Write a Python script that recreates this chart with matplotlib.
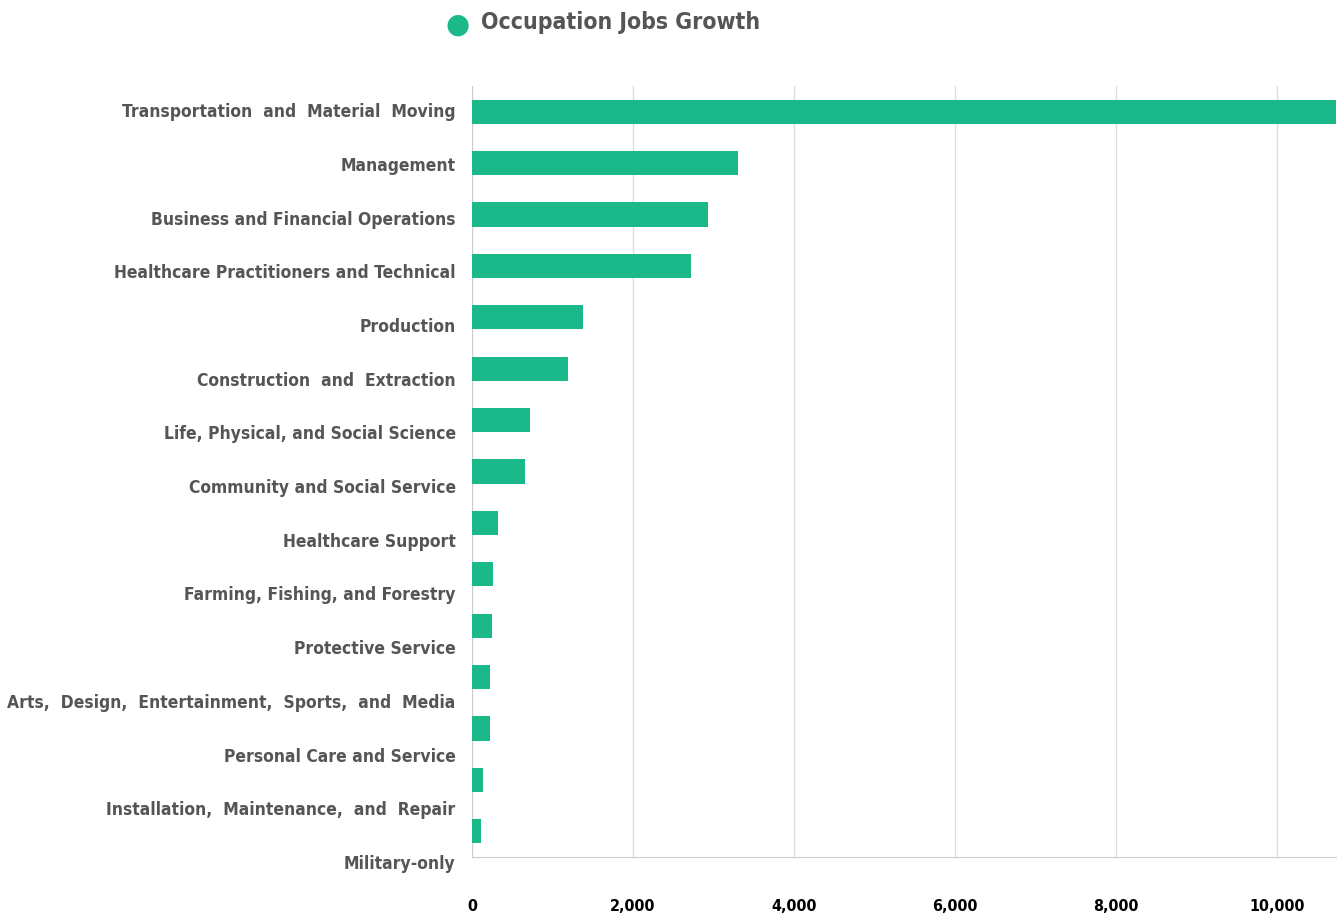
import matplotlib.pyplot as plt
import numpy as np

categories = [
    "Transportation  and  Material  Moving",
    "Management",
    "Business and Financial Operations",
    "Healthcare Practitioners and Technical",
    "Production",
    "Construction  and  Extraction",
    "Life, Physical, and Social Science",
    "Community and Social Service",
    "Healthcare Support",
    "Farming, Fishing, and Forestry",
    "Protective Service",
    "Arts,  Design,  Entertainment,  Sports,  and  Media",
    "Personal Care and Service",
    "Installation,  Maintenance,  and  Repair",
    "Military-only",
]
growth = [10730, 3304, 2932, 2720, 1379, 1193, 720, 658, 323, 261, 248, 224, 224, 137, 112]
xticks = [0, 2000, 4000, 6000, 8000, 10000]

green = "#1bb98a"
grey = "#555555"
font = dict(family="DejaVu Sans", stretch="condensed", weight="bold")

fig = plt.figure(figsize=(13.43, 9.18), dpi=100)
ax = fig.add_axes([0.3515, 0.0665, 0.6433, 0.8398])

n = len(categories)
ypos = np.arange(n)
ax.barh(ypos, growth, height=0.47, color=green, zorder=3)
ax.set_ylim(n - 0.5, -0.5)
ax.set_xlim(0, max(growth))

# category labels drift slightly from the bars, as in the original
label_step = 53.7 / 51.4
for i, name in enumerate(categories):
    ax.text(-0.019, i * label_step + 0.01, name, transform=ax.get_yaxis_transform(),
            ha="right", va="center", fontsize=12.5, color=grey, clip_on=False, **font)
ax.set_yticks([])

ax.set_xticks(xticks)
ax.set_xticklabels([f"{v:,}" for v in xticks], fontsize=11.5, color="black", **font)
ax.tick_params(axis="x", length=0, pad=30)
ax.grid(axis="x", color="#dddddd", linewidth=1, zorder=0)

for side in ["top", "right"]:
    ax.spines[side].set_visible(False)
ax.spines["left"].set_color("#cccccc")
ax.spines["bottom"].set_color("#cccccc")

# legend
fig.text(458 / 1343, 1 - 25 / 918, "\u25cf", color=green, fontsize=20, ha="center", va="center")
fig.text(481 / 1343, 1 - 23 / 918, "Occupation Jobs Growth", color=grey, fontsize=16.5,
         ha="left", va="center", **font)

fig.savefig("out.png", dpi=100)
